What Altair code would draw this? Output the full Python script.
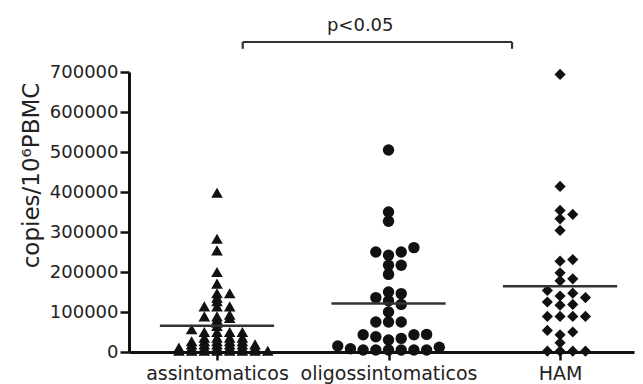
import json
import altair as alt
import pandas as pd

groups = ["assintomaticos", "oligossintomaticos", "HAM"]
shapes = ["triangle-up", "circle", "diamond"]
shape_sizes = [135, 125, 100]

assintomaticos = [398000, 283000, 254000, 200000, 171000, 147000, 147000, 136000,
                  127000, 114000, 114000, 114000, 93000, 89000, 89000, 85000, 81000,
                  73000, 65000, 57000, 50000, 50000, 50000, 50000,
                  36000, 36000, 36000, 36000,
                  27000, 27000, 27000, 27000, 27000,
                  19000, 19000, 19000, 19000, 19000, 19000,
                  11000, 11000, 11000, 11000, 11000, 11000, 11000,
                  3000, 3000, 3000, 3000, 3000, 3000, 3000, 3000]
oligossintomaticos = [505000, 350000, 327000, 261000, 250000, 250000, 242000, 217000,
                      217000, 194000, 150000, 146000, 136000, 128000, 119000, 100000,
                      75000, 75000, 75000, 44000, 43000, 43000, 38000, 34000, 30000,
                      15000, 12000, 8000, 5000, 5000, 5000, 5000, 5000, 5000]
ham = [694000, 414000, 354000, 344000, 333000, 304000, 231000, 227000, 198000,
       183000, 178000, 154000, 147000, 140000, 136000, 125000, 119000, 117000,
       89000, 89000, 89000, 89000, 54000, 50000, 43000, 23000,
       2000, 2000, 2000, 2000]
series = [assintomaticos, oligossintomaticos, ham]
overlap = [7500, 20000, 20000]   # vertical distance below which dots share a row

y_ticks = [0, 100000, 200000, 300000, 400000, 500000, 600000, 700000]
y_title = "copies/10\u2076PBMC"
p_label = "p<0.05"

COL = 0.074          # horizontal spacing of dots within a column (x units)
HALF = 0.333         # half length of the mean line


def swarm(values, thresh):
    placed, res = [], [0] * len(values)
    for i in sorted(range(len(values)), key=lambda k: values[k]):
        v, k = values[i], 0
        while True:
            c = 0 if k == 0 else ((k + 1) // 2) * (1 if k % 2 else -1)
            if all(abs(v - pv) >= thresh for pv, pc in placed if pc == c):
                break
            k += 1
        placed.append((v, c))
        res[i] = c
    return res


rows = []
for gi, (g, vals, th) in enumerate(zip(groups, series, overlap)):
    for v, c in zip(vals, swarm(vals, th)):
        rows.append({"group": g, "gi": gi, "value": v, "col": c})
df = pd.DataFrame(rows)

bl, br = 0 + 0.15, 2 - 0.28
ytop, ytick = 775000, 758000
bracket = pd.DataFrame([
    {"x": bl, "x2": br, "y": ytop, "y2": ytop},
    {"x": bl, "x2": bl, "y": ytop, "y2": ytick},
    {"x": br, "x2": br, "y": ytop, "y2": ytick},
])
ptext = pd.DataFrame([{"x": (bl + br) / 2 - 0.1, "y": 802000, "t": p_label}])

FONT = "DejaVu Sans"
INK = "#111111"
TXT = "#222222"

xscale = alt.Scale(domain=[-0.513, 2.431], nice=False, zero=False)
yscale = alt.Scale(domain=[0, 700000], nice=False, zero=True)
label_expr = "[" + ",".join(json.dumps(g) for g in groups) + "][datum.value]"
xaxis = alt.Axis(values=[0, 1, 2], labelExpr=label_expr, title=None, grid=False,
                 tickSize=8, tickWidth=2.5, tickColor=INK, domainWidth=3,
                 domainColor=INK, labelFont=FONT, labelFontSize=19, labelColor=TXT,
                 labelPadding=4, labelOverlap=False, labelFlush=False, labelBound=False,
                 labelLimit=400)
yaxis = alt.Axis(values=y_ticks, format="d", title=y_title, grid=False,
                 tickSize=9, tickWidth=2.5, tickColor=INK, domainWidth=3,
                 domainColor=INK, labelFont=FONT, labelFontSize=18, labelColor=TXT,
                 labelPadding=2, titleFont=FONT, titleFontSize=23,
                 titleFontWeight="normal", titleColor=TXT, titleAngle=270,
                 titleAlign="center", titleBaseline="alphabetic", titleX=-91, titleY=103,
                 titleLimit=400)


def X(f):
    return alt.X(f, scale=xscale, axis=xaxis)


def Y(f):
    return alt.Y(f, scale=yscale, axis=yaxis)


points = alt.Chart(df).transform_calculate(
    xp=f"datum.gi + datum.col * {COL}"
).mark_point(filled=True, opacity=1, color=INK, strokeWidth=0).encode(
    x=X("xp:Q"),
    y=Y("value:Q"),
    shape=alt.Shape("group:N", scale=alt.Scale(domain=groups, range=shapes), legend=None),
    size=alt.Size("group:N", scale=alt.Scale(domain=groups, range=shape_sizes), legend=None),
)

means = alt.Chart(df).transform_aggregate(
    m="mean(value)", groupby=["group", "gi"]
).transform_calculate(
    xa=f"datum.gi - {HALF}", xb=f"datum.gi + {HALF}"
).mark_rule(strokeWidth=2.5, color="#333333").encode(
    x=X("xa:Q"), x2="xb:Q", y=Y("m:Q")
)

brk = alt.Chart(bracket).mark_rule(strokeWidth=2.2, color="#333333").encode(
    x=X("x:Q"), x2="x2:Q", y=Y("y:Q"), y2="y2:Q"
)

txt = alt.Chart(ptext).mark_text(font=FONT, fontSize=18, color=TXT,
                                 baseline="alphabetic", align="center").encode(
    x=X("x:Q"), y=Y("y:Q"), text="t:N"
)

chart = alt.layer(points, means, brk, txt).properties(
    width=505, height=280,
    autosize=alt.AutoSizeParams(type="none"),
    padding={"left": 121, "top": 64, "right": 1, "bottom": 32},
    background="white",
).configure_view(stroke=None)

chart.save("out.html", embed_options={"renderer": "svg", "actions": False})
